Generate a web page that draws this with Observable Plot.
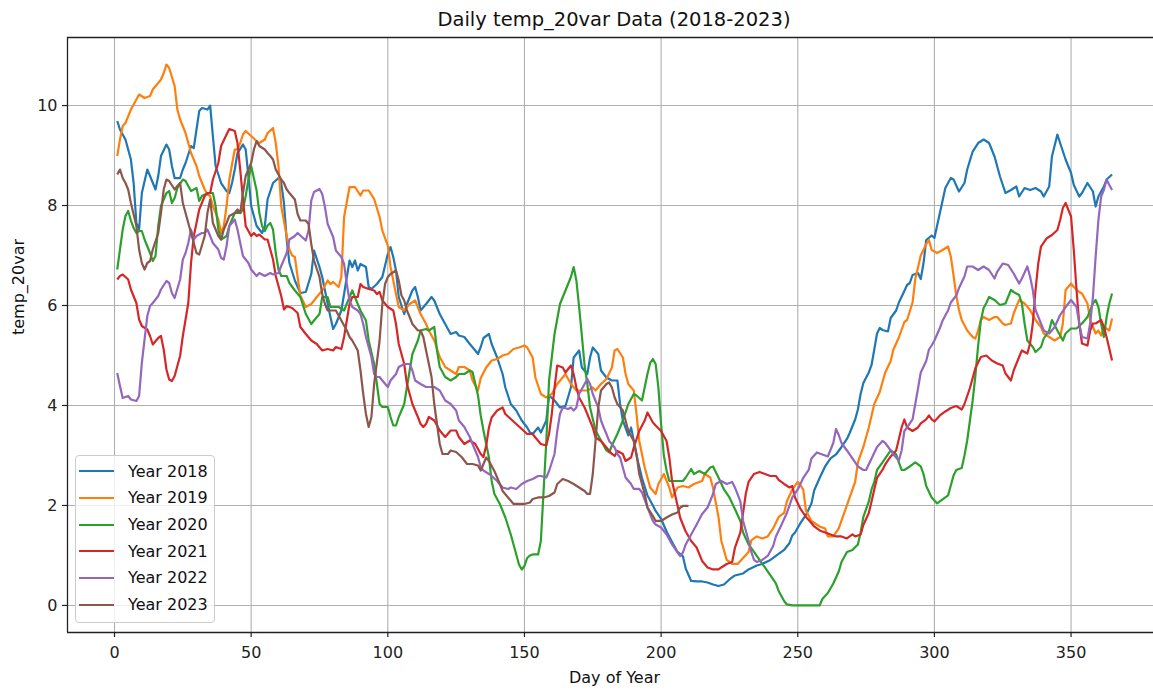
<!DOCTYPE html>
<html>
<head>
<meta charset="utf-8">
<script src="https://cdn.jsdelivr.net/npm/d3@7"></script>
<script src="https://cdn.jsdelivr.net/npm/@observablehq/plot@0.6"></script>
<style>
  html, body { margin: 0; padding: 0; background: #fff; overflow: hidden; }
  #wrap { position: relative; width: 1153px; height: 690px; font-family: "DejaVu Sans", sans-serif; color: #111; }
  #title { height: 30px; box-sizing: border-box; margin-left: 67px; width: 1086px; padding-left: 8px; padding-top: 10px; font-size: 19.5px; line-height: 20px; text-align: center; white-space: nowrap; }
  #legend { position: absolute; left: 75px; top: 455px; width: 140px; height: 168px; box-sizing: border-box; padding-top: 2px; background: rgba(255,255,255,0.8); border: 1px solid #cccccc; border-radius: 4px; }
  .row { display: flex; align-items: center; height: 26.67px; font-size: 16px; }
  .sw { margin-left: 3px; width: 35px; height: 2.2px; }
  .lab { margin-left: 14px; white-space: nowrap; }
</style>
</head>
<body>
<div id="wrap">
  <div id="title"></div>
  <div id="chart"></div>
  <div id="legend"></div>
</div>
<script>
const titleText = "Daily temp_20var Data (2018-2023)";
const xLabel = "Day of Year";
const yLabel = "temp_20var";
const years = ["Year 2018", "Year 2019", "Year 2020", "Year 2021", "Year 2022", "Year 2023"];
const colors = ["#1f77b4", "#ff7f0e", "#2ca02c", "#d62728", "#9467bd", "#8c564b"];
const xTicks = [0, 50, 100, 150, 200, 250, 300, 350];
const yTicks = [0, 2, 4, 6, 8, 10];

const y2018 = [[1,9.69],[2,9.52],[4,9.32],[6,8.92],[7,8.45],[8,7.65],[9,7.52],[10,8.25],[12,8.72],[13,8.59],[15,8.32],[16,8.59],[17,8.99],[19,9.22],[20,9.12],[21,8.79],[22,8.55],[24,8.55],[25,8.72],[26,8.85],[28,9.19],[29,9.15],[30,9.52],[31,9.89],[32,9.95],[34,9.92],[35,10.0],[36,9.39],[37,8.79],[39,8.45],[41,8.29],[42,8.25],[43,8.45],[44,8.72],[45,9.05],[47,9.22],[48,9.12],[49,8.59],[50,7.99],[52,7.59],[54,7.45],[55,7.59],[56,8.12],[58,8.45],[60,8.55],[61,8.45],[62,8.05],[63,7.32],[64,6.85],[66,6.5],[68,6.25],[70,6.27],[72,6.63],[73,7.1],[75,6.77],[76,6.57],[77,6.3],[79,5.77],[80,5.53],[81,5.63],[83,5.9],[84,6.23],[86,6.9],[87,6.77],[88,6.9],[89,6.7],[90,6.83],[92,6.77],[93,6.37],[94,6.33],[96,6.43],[98,6.57],[100,7.03],[101,7.17],[102,6.97],[103,6.7],[104,6.17],[106,5.83],[107,6.03],[109,6.3],[110,6.37],[111,6.17],[112,5.9],[114,6.03],[116,6.17],[117,6.1],[119,5.83],[121,5.63],[123,5.43],[125,5.47],[126,5.4],[128,5.37],[130,5.23],[132,5.1],[133,5.03],[134,5.17],[135,5.35],[137,5.43],[138,5.23],[140,4.96],[142,4.63],[143,4.36],[145,4.03],[147,3.9],[149,3.7],[151,3.56],[152,3.46],[153,3.43],[155,3.56],[156,3.46],[158,3.7],[159,4.2],[161,4.1],[163,3.96],[165,3.99],[167,4.36],[168,4.96],[170,5.1],[171,4.76],[173,4.63],[174,4.96],[175,5.16],[177,5.03],[178,4.7],[180,4.56],[182,4.5],[184,4.5],[185,4.03],[186,3.7],[188,3.4],[189,3.56],[190,3.3],[191,3.0],[193,2.55],[195,2.2],[197,2.0],[198,1.89],[200,1.73],[202,1.48],[204,1.27],[206,1.07],[208,0.98],[209,0.74],[211,0.49],[213,0.48],[215,0.48],[217,0.46],[219,0.42],[221,0.39],[223,0.42],[225,0.52],[227,0.6],[230,0.64],[232,0.72],[235,0.8],[237,0.83],[240,0.91],[242,0.99],[245,1.11],[247,1.25],[248,1.4],[249,1.46],[251,1.65],[253,1.81],[255,2.04],[256,2.3],[258,2.55],[260,2.78],[262,2.94],[264,3.02],[266,3.17],[268,3.33],[269,3.45],[271,3.72],[272,3.92],[273,4.23],[274,4.45],[276,4.66],[277,4.81],[278,5.12],[279,5.44],[280,5.55],[281,5.51],[283,5.48],[284,5.75],[286,5.9],[287,6.06],[289,6.29],[290,6.41],[291,6.45],[292,6.61],[294,6.65],[295,6.53],[296,6.84],[297,7.31],[299,7.4],[300,7.35],[302,7.85],[304,8.35],[306,8.55],[307,8.52],[309,8.28],[311,8.45],[312,8.72],[314,9.08],[316,9.25],[318,9.32],[320,9.25],[322,8.98],[324,8.58],[326,8.25],[328,8.31],[330,8.38],[331,8.18],[333,8.35],[335,8.31],[337,8.35],[339,8.28],[340,8.18],[342,8.38],[343,8.98],[345,9.42],[346,9.25],[348,8.92],[350,8.65],[351,8.41],[353,8.18],[354,8.25],[356,8.45],[358,8.28],[359,7.98],[360,8.18],[362,8.38],[363,8.52],[365,8.62]];

const y2019 = [[1,8.99],[2,9.32],[3,9.59],[4,9.65],[6,9.92],[8,10.12],[9,10.22],[11,10.15],[13,10.19],[14,10.32],[16,10.45],[17,10.52],[18,10.65],[19,10.82],[20,10.75],[22,10.39],[23,9.92],[24,9.72],[26,9.45],[27,9.25],[28,9.05],[30,8.79],[31,8.59],[33,8.32],[34,8.22],[35,8.19],[36,7.99],[38,7.72],[39,7.45],[40,7.59],[41,7.99],[42,8.52],[44,9.12],[45,9.12],[46,9.25],[47,9.42],[48,9.49],[50,9.39],[52,9.29],[53,9.25],[55,9.32],[56,9.45],[58,9.55],[59,9.25],[60,8.79],[61,7.99],[63,7.39],[64,7.12],[65,7.0],[66,6.97],[67,6.57],[68,6.2],[70,5.97],[72,6.03],[74,6.17],[76,6.3],[78,6.5],[79,6.43],[80,6.47],[82,6.37],[83,6.57],[84,7.77],[86,8.37],[88,8.37],[90,8.2],[91,8.3],[93,8.3],[95,8.13],[97,7.77],[98,7.5],[100,7.2],[101,6.77],[103,6.23],[104,5.97],[106,5.9],[108,6.03],[110,6.1],[112,5.83],[114,5.63],[115,5.5],[117,5.3],[119,4.97],[121,4.77],[123,4.7],[125,4.63],[126,4.77],[128,4.77],[130,4.7],[131,4.5],[133,4.3],[134,4.55],[136,4.76],[138,4.9],[140,4.93],[142,5.0],[144,5.03],[146,5.13],[148,5.16],[150,5.2],[151,5.16],[153,4.96],[154,4.56],[156,4.23],[158,4.16],[160,4.23],[162,4.43],[164,4.56],[165,4.63],[167,4.43],[169,4.3],[173,4.3],[175,4.36],[176,4.3],[178,4.43],[180,4.53],[182,4.76],[183,5.1],[184,5.13],[186,4.96],[187,4.63],[188,4.43],[190,4.3],[191,3.83],[192,3.29],[194,2.76],[196,2.36],[198,2.23],[199,2.43],[201,2.63],[203,2.36],[204,2.16],[206,2.36],[208,2.39],[210,2.36],[212,2.43],[215,2.49],[216,2.63],[218,2.56],[219,2.35],[221,1.77],[222,1.3],[224,0.91],[226,0.83],[228,0.83],[230,0.95],[232,1.07],[233,1.3],[235,1.38],[237,1.34],[239,1.38],[241,1.54],[243,1.77],[245,1.85],[246,2.08],[248,2.32],[250,2.47],[251,2.4],[252,2.32],[253,1.9],[255,1.69],[258,1.58],[260,1.54],[261,1.38],[263,1.38],[265,1.54],[267,1.85],[269,2.16],[271,2.47],[272,2.86],[274,3.17],[276,3.56],[278,4.03],[280,4.27],[282,4.66],[284,4.89],[285,5.12],[287,5.36],[289,5.67],[290,5.71],[292,6.06],[293,6.53],[294,6.76],[295,7.0],[297,7.23],[298,7.31],[299,7.11],[301,7.05],[303,7.11],[305,7.18],[306,6.98],[307,6.6],[308,6.2],[309,5.91],[310,5.71],[312,5.5],[314,5.37],[315,5.34],[316,5.5],[317,5.71],[318,5.77],[320,5.71],[322,5.77],[323,5.77],[325,5.64],[326,5.61],[328,5.64],[329,5.84],[331,6.11],[333,6.04],[335,5.91],[337,5.71],[339,5.57],[340,5.44],[342,5.37],[344,5.3],[346,5.37],[347,5.64],[348,6.31],[350,6.44],[351,6.37],[353,6.27],[354,6.24],[356,6.04],[357,5.71],[359,5.44],[360,5.5],[361,5.4],[362,5.57],[364,5.5],[365,5.74]];

const y2020 = [[1,6.72],[2,7.12],[3,7.52],[4,7.79],[5,7.89],[6,7.7],[7,7.55],[8,7.45],[9,7.49],[10,7.49],[11,7.32],[13,7.05],[14,6.89],[15,6.99],[16,7.59],[17,7.99],[19,8.25],[20,8.29],[21,8.05],[22,8.15],[23,8.35],[25,8.52],[26,8.49],[27,8.39],[28,8.29],[30,8.35],[31,8.09],[32,8.19],[33,8.22],[35,8.25],[36,8.25],[37,7.99],[38,7.52],[39,7.32],[41,7.39],[42,7.59],[43,7.72],[44,7.85],[46,7.85],[47,7.92],[48,8.19],[49,8.52],[50,8.79],[52,8.3],[53,7.85],[54,7.59],[55,7.49],[56,7.6],[57,7.65],[58,7.52],[59,7.05],[60,6.72],[61,6.59],[63,6.59],[64,6.45],[66,6.3],[68,6.17],[70,5.83],[72,5.63],[73,5.7],[75,5.83],[76,6.17],[78,6.17],[79,5.97],[82,5.97],[84,5.9],[86,6.17],[87,6.3],[89,6.03],[90,5.9],[92,5.7],[93,5.3],[95,4.83],[96,4.43],[97,4.03],[98,3.97],[100,3.97],[101,3.77],[102,3.6],[103,3.6],[104,3.77],[106,4.03],[107,4.37],[108,4.7],[109,5.03],[111,5.3],[112,5.5],[114,5.53],[115,5.5],[117,5.57],[118,5.1],[119,4.77],[121,4.57],[123,4.5],[125,4.57],[126,4.63],[128,4.63],[130,4.7],[131,4.67],[133,4.2],[134,3.8],[135,3.5],[137,2.96],[138,2.49],[139,2.23],[141,2.03],[143,1.76],[145,1.42],[147,1.02],[148,0.82],[149,0.72],[150,0.79],[151,0.95],[152,1.0],[153,1.02],[155,1.02],[156,1.29],[157,2.29],[158,3.29],[159,4.5],[161,5.43],[163,6.03],[165,6.3],[167,6.57],[168,6.77],[169,6.5],[170,5.97],[171,5.4],[172,4.8],[173,4.43],[174,3.96],[176,3.5],[178,3.3],[180,3.1],[181,3.06],[182,3.2],[184,3.43],[186,3.7],[188,4.03],[190,4.23],[191,4.2],[193,4.1],[195,4.63],[196,4.85],[197,4.93],[198,4.83],[199,4.36],[200,3.63],[201,3.0],[202,2.7],[203,2.49],[205,2.49],[208,2.49],[209,2.56],[211,2.73],[212,2.63],[214,2.69],[216,2.63],[218,2.76],[219,2.78],[221,2.56],[223,2.32],[225,2.16],[227,1.93],[229,1.69],[230,1.46],[232,1.22],[234,1.07],[236,0.91],[238,0.76],[240,0.6],[242,0.44],[243,0.29],[245,0.09],[246,0.02],[248,0],[258,0],[259,0.13],[261,0.25],[263,0.44],[265,0.68],[266,0.87],[268,1.07],[270,1.11],[272,1.22],[273,1.46],[274,1.77],[276,2.08],[277,2.32],[278,2.47],[279,2.71],[281,2.86],[282,2.94],[283,3.02],[284,3.1],[286,3.02],[287,2.86],[288,2.71],[289,2.71],[291,2.78],[293,2.86],[295,2.78],[296,2.63],[297,2.39],[299,2.16],[301,2.04],[303,2.12],[305,2.2],[306,2.4],[307,2.6],[308,2.71],[310,2.75],[311,3.0],[312,3.3],[313,3.7],[314,4.1],[315,4.6],[316,5.2],[317,5.7],[318,5.95],[319,6.05],[320,6.17],[322,6.11],[324,6.01],[326,6.04],[328,6.31],[329,6.27],[331,6.21],[332,6.04],[333,5.64],[334,5.3],[336,5.17],[337,5.07],[339,5.17],[340,5.34],[342,5.5],[343,5.71],[345,5.5],[347,5.3],[348,5.44],[350,5.54],[352,5.54],[354,5.64],[356,5.77],[357,5.9],[358,6.04],[359,6.11],[360,5.97],[361,5.64],[362,5.37],[363,5.77],[364,6.04],[365,6.24]];

const y2021 = [[1,6.52],[2,6.59],[3,6.62],[5,6.52],[6,6.32],[8,6.05],[9,5.72],[10,5.59],[12,5.52],[13,5.39],[14,5.22],[16,5.35],[17,5.39],[18,5.12],[19,4.72],[20,4.52],[21,4.49],[22,4.59],[23,4.79],[24,4.99],[25,5.39],[27,6.05],[28,6.85],[29,7.39],[30,7.65],[31,7.92],[33,8.19],[34,8.25],[35,8.25],[36,8.52],[38,8.85],[39,9.19],[41,9.42],[42,9.53],[44,9.49],[45,9.25],[46,8.72],[47,8.12],[48,7.59],[50,7.39],[51,7.45],[52,7.39],[53,7.42],[55,7.32],[56,7.32],[57,7.12],[58,6.92],[59,6.59],[61,6.19],[62,5.92],[63,5.99],[65,5.95],[67,5.85],[68,5.57],[70,5.43],[72,5.3],[74,5.23],[76,5.1],[78,5.13],[80,5.1],[81,5.17],[83,5.13],[84,5.37],[86,6.03],[87,6.17],[89,6.17],[90,6.43],[91,6.37],[93,6.33],[95,6.3],[96,6.23],[97,6.27],[98,6.1],[100,5.97],[102,5.9],[103,5.63],[104,5.23],[106,4.83],[107,4.43],[108,4.23],[109,4.03],[111,3.77],[112,3.63],[113,3.57],[114,3.63],[115,3.77],[117,3.7],[119,3.5],[121,3.37],[123,3.5],[125,3.5],[126,3.37],[128,3.23],[130,3.3],[132,3.23],[134,3.03],[135,2.97],[136,3.2],[137,3.56],[138,3.76],[140,3.9],[142,3.96],[143,3.83],[145,3.73],[147,3.63],[149,3.53],[151,3.43],[153,3.43],[154,3.36],[156,3.23],[158,3.2],[159,3.43],[160,3.83],[161,4.36],[162,4.8],[164,4.76],[165,4.66],[166,4.73],[167,4.8],[168,4.63],[169,4.36],[170,4.16],[172,3.96],[173,3.83],[175,3.56],[176,3.36],[178,3.29],[180,3.16],[182,3.03],[183,2.99],[184,3.09],[186,3.03],[187,2.89],[189,2.96],[190,3.16],[192,3.49],[194,3.7],[195,3.86],[197,3.66],[198,3.6],[200,3.49],[202,3.29],[203,2.96],[204,2.49],[206,2.0],[207,1.75],[209,1.48],[211,1.29],[213,1.16],[215,0.89],[217,0.76],[219,0.72],[221,0.72],[222,0.76],[224,0.83],[226,0.87],[227,1.15],[229,1.46],[230,1.85],[231,2.24],[232,2.47],[234,2.63],[236,2.67],[238,2.63],[240,2.59],[242,2.59],[243,2.51],[245,2.43],[247,2.36],[248,2.39],[249,2.16],[251,1.93],[253,1.77],[255,1.65],[256,1.58],[258,1.5],[260,1.46],[262,1.42],[264,1.38],[266,1.38],[268,1.34],[270,1.42],[271,1.38],[273,1.42],[274,1.61],[276,1.85],[277,2.08],[278,2.32],[279,2.55],[281,2.71],[282,2.82],[283,2.9],[284,2.98],[286,3.1],[287,3.33],[288,3.56],[289,3.72],[290,3.56],[292,3.49],[294,3.56],[295,3.64],[297,3.72],[298,3.8],[299,3.72],[300,3.68],[302,3.8],[304,3.88],[306,3.95],[308,3.99],[310,3.92],[311,4.03],[313,4.35],[314,4.55],[315,4.75],[317,4.97],[319,5.0],[321,4.9],[323,4.84],[325,4.8],[326,4.64],[328,4.5],[329,4.7],[331,4.97],[332,5.1],[334,5.04],[335,5.24],[336,5.64],[337,6.31],[338,6.84],[339,7.18],[341,7.34],[343,7.41],[345,7.51],[346,7.71],[347,7.95],[348,8.05],[350,7.78],[351,7.11],[352,6.31],[353,5.64],[354,5.24],[356,5.2],[357,5.5],[358,5.64],[359,5.64],[361,5.71],[362,5.57],[363,5.37],[365,4.9]];

const y2022 = [[1,4.65],[2,4.39],[3,4.15],[5,4.19],[6,4.12],[8,4.09],[9,4.19],[10,4.85],[11,5.32],[12,5.79],[13,5.99],[14,6.05],[16,6.19],[17,6.32],[19,6.49],[20,6.45],[21,6.25],[22,6.15],[24,6.52],[25,6.92],[26,7.05],[27,7.25],[28,7.52],[29,7.32],[30,7.39],[32,7.45],[33,7.45],[34,7.52],[35,7.39],[36,7.25],[38,7.12],[39,6.95],[40,6.92],[41,7.19],[42,7.59],[44,7.72],[45,7.52],[46,7.25],[47,6.99],[49,6.85],[50,6.72],[52,6.59],[53,6.65],[55,6.59],[57,6.65],[58,6.62],[60,6.65],[61,6.79],[63,7.05],[64,7.32],[66,7.39],[67,7.45],[69,7.35],[70,7.3],[71,7.5],[72,8.1],[73,8.27],[75,8.33],[76,8.23],[77,7.97],[78,7.63],[80,7.37],[81,7.1],[83,6.97],[84,6.83],[85,6.43],[86,6.1],[87,5.97],[89,5.9],[90,5.83],[91,5.63],[92,5.37],[94,4.97],[95,4.63],[96,4.57],[97,4.57],[98,4.5],[100,4.37],[101,4.5],[103,4.63],[104,4.77],[106,4.83],[108,4.83],[109,4.7],[110,4.5],[112,4.43],[114,4.37],[117,4.37],[119,4.3],[121,4.1],[123,4.03],[125,3.9],[126,3.7],[128,3.57],[130,3.37],[131,3.23],[133,2.97],[134,2.77],[135,2.7],[137,2.63],[138,2.59],[140,2.49],[142,2.36],[144,2.33],[145,2.36],[147,2.33],[149,2.43],[151,2.49],[153,2.53],[155,2.59],[156,2.59],[158,2.56],[159,2.69],[161,3.03],[162,3.49],[163,3.83],[164,3.96],[166,3.93],[167,3.96],[168,3.9],[169,3.96],[170,4.23],[172,4.43],[173,4.53],[174,4.43],[175,4.23],[177,3.96],[178,3.7],[179,3.56],[180,3.43],[181,3.29],[183,3.16],[184,3.03],[185,2.96],[186,2.76],[187,2.56],[189,2.43],[190,2.33],[192,2.33],[193,2.26],[195,1.96],[197,1.69],[198,1.62],[200,1.56],[202,1.42],[204,1.22],[206,1.06],[207,0.99],[208,1.06],[209,1.22],[211,1.42],[213,1.62],[215,1.83],[217,1.96],[219,2.23],[220,2.43],[222,2.49],[224,2.43],[226,2.47],[227,2.36],[229,2.08],[230,1.69],[232,1.3],[233,1.07],[234,0.91],[235,0.87],[237,0.91],[239,0.99],[241,1.19],[242,1.38],[244,1.61],[246,1.85],[248,2.16],[250,2.32],[252,2.55],[254,2.71],[255,2.94],[257,3.06],[259,3.02],[261,2.98],[263,3.25],[264,3.53],[265,3.41],[266,3.25],[268,3.1],[270,2.94],[272,2.78],[274,2.71],[275,2.71],[277,2.94],[279,3.17],[281,3.29],[282,3.25],[284,3.1],[285,3.02],[287,2.9],[288,3.1],[289,3.49],[290,3.56],[292,3.72],[293,4.03],[294,4.34],[295,4.66],[297,4.89],[298,5.12],[299,5.2],[300,5.3],[302,5.55],[303,5.7],[305,5.9],[306,6.06],[308,6.2],[309,6.35],[311,6.58],[312,6.78],[314,6.78],[316,6.71],[318,6.78],[320,6.71],[322,6.54],[323,6.68],[325,6.84],[327,6.81],[329,6.64],[331,6.44],[332,6.54],[334,6.78],[335,6.58],[336,6.31],[337,5.91],[339,5.64],[340,5.5],[342,5.44],[344,5.57],[346,5.81],[348,5.97],[350,6.11],[351,6.04],[352,5.97],[353,5.64],[354,5.37],[356,5.34],[357,5.64],[358,6.17],[359,6.98],[360,7.71],[361,8.18],[362,8.31],[363,8.52],[364,8.41],[365,8.31]];

const y2023 = [[1,8.62],[2,8.72],[3,8.55],[4,8.45],[5,8.32],[6,8.05],[8,7.59],[9,7.12],[10,6.85],[11,6.72],[12,6.85],[13,6.89],[14,7.12],[16,7.45],[17,7.85],[18,8.32],[19,8.52],[20,8.49],[22,8.32],[23,8.39],[24,8.45],[25,8.05],[27,7.65],[28,7.45],[29,7.25],[30,7.05],[31,7.02],[33,7.39],[34,7.85],[35,8.12],[36,7.65],[38,7.39],[39,7.32],[40,7.52],[41,7.65],[42,7.79],[44,7.85],[45,7.92],[46,7.85],[47,8.25],[48,8.59],[50,8.85],[51,9.12],[52,9.29],[53,9.19],[55,9.12],[56,9.05],[57,8.99],[58,8.92],[59,8.72],[61,8.52],[62,8.45],[63,8.32],[64,8.25],[66,8.12],[67,7.83],[68,7.7],[70,7.7],[71,7.63],[72,7.23],[73,6.9],[75,6.57],[76,6.23],[77,6.03],[78,5.9],[81,5.9],[83,5.7],[85,5.5],[86,5.37],[87,5.3],[89,5.1],[90,4.7],[91,4.23],[92,3.83],[93,3.57],[94,3.77],[95,4.43],[97,5.3],[98,6.03],[99,6.43],[100,6.57],[101,6.63],[103,6.7],[104,6.5],[105,6.2],[106,6.1],[107,5.9],[108,5.77],[109,5.63],[111,5.5],[112,5.5],[113,5.37],[114,5.1],[116,4.57],[117,4.03],[118,3.63],[119,3.23],[120,3.03],[122,3.03],[123,3.1],[125,3.07],[127,2.97],[129,2.83],[131,2.83],[133,2.8],[134,2.7],[136,2.96],[137,2.89],[139,2.69],[141,2.43],[142,2.29],[144,2.16],[146,2.03],[148,2.03],[150,2.03],[152,2.06],[153,2.13],[155,2.16],[157,2.16],[159,2.19],[161,2.26],[162,2.43],[164,2.53],[166,2.49],[168,2.43],[170,2.36],[172,2.29],[173,2.23],[174,2.23],[175,2.63],[176,3.29],[177,3.96],[178,4.3],[180,4.43],[181,4.46],[182,4.36],[183,4.16],[184,4.03],[186,3.9],[187,3.7],[188,3.49],[190,3.29],[191,3.03],[192,2.63],[194,2.23],[195,1.96],[197,1.79],[198,1.69],[200,1.69],[202,1.76],[204,1.82],[206,1.86],[207,1.96],[208,1.99],[210,1.99]];

const seriesList = [y2018, y2019, y2020, y2021, y2022, y2023];
const rows = seriesList.flatMap((s, i) => s.map(([day, value]) => ({year: years[i], day, value})));

// matplotlib-style 5% margins around the data extent
const dayExt = d3.extent(rows, d => d.day);
const valExt = d3.extent(rows, d => d.value);
const padX = (dayExt[1] - dayExt[0]) * 0.05;
const padY = (valExt[1] - valExt[0]) * 0.05;
const width = 1153, marginLeft = 67;
const fullRight = dayExt[1] + padX;           // axes right edge (lies just past the picture edge)
const xLeft = dayExt[0] - padX;
const pxPerDay = 2.733;
const xRight = xLeft + (width - marginLeft) / pxPerDay;
const xDomain = [xLeft, Math.min(fullRight, xRight)];
const yDomain = [valExt[0] - padY, valExt[1] + padY];

document.getElementById("title").textContent = titleText;

const chart = Plot.plot({
  width, height: 660,
  marginLeft, marginRight: 0, marginTop: 7, marginBottom: 58,
  style: {fontFamily: "DejaVu Sans, sans-serif", fontSize: "16px", color: "#111", background: "#fff", overflow: "visible"},
  x: {domain: xDomain},
  y: {domain: yDomain},
  color: {domain: years, range: colors},
  marks: [
    Plot.gridX(xTicks, {stroke: "#b0b0b0", strokeOpacity: 1, strokeWidth: 1.1}),
    Plot.gridY(yTicks, {stroke: "#b0b0b0", strokeOpacity: 1, strokeWidth: 1.1}),
    Plot.line(rows, {x: "day", y: "value", z: "year", stroke: "year", strokeWidth: 2.2, strokeLinejoin: "round", strokeLinecap: "butt"}),
    Plot.ruleX([xDomain[0]], {stroke: "#222", strokeWidth: 1.3}),
    Plot.ruleY(yDomain, {stroke: "#222", strokeWidth: 1.3}),
    Plot.axisX(xTicks, {tickSize: 5, tickPadding: 9, fontSize: 16, color: "#222", strokeWidth: 1.2, label: null, tickFormat: d => String(d)}),
    Plot.axisY(yTicks, {tickSize: 5, tickPadding: 5, fontSize: 16, color: "#222", strokeWidth: 1.2, label: null, tickFormat: d => String(d)}),
    Plot.text([xLabel], {text: d => d, frameAnchor: "bottom", dy: 45, dx: 4, fontSize: 16, fill: "#111", lineAnchor: "middle"}),
    Plot.text([yLabel], {text: d => d, frameAnchor: "left", dx: -49, rotate: -90, fontSize: 16, fill: "#111", lineAnchor: "middle"})
  ]
});
document.getElementById("chart").appendChild(chart);

const legend = document.getElementById("legend");
years.forEach((y, i) => {
  const row = document.createElement("div");
  row.className = "row";
  const sw = document.createElement("div");
  sw.className = "sw";
  sw.style.background = colors[i];
  const lab = document.createElement("div");
  lab.className = "lab";
  lab.textContent = y;
  row.appendChild(sw);
  row.appendChild(lab);
  legend.appendChild(row);
});
</script>
</body>
</html>
